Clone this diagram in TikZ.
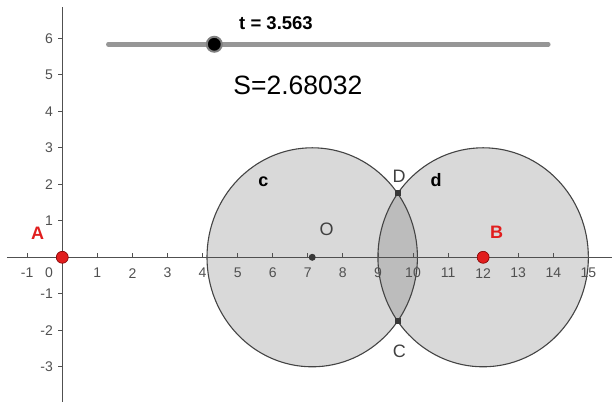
\documentclass[tikz,border=0pt]{standalone}
\usepackage{fontspec}
\setmainfont{Liberation Sans}

\definecolor{axisgray}{RGB}{80,80,80}
\definecolor{circfill}{RGB}{217,217,217}
\definecolor{lensfill}{RGB}{188,188,188}
\definecolor{ptred}{RGB}{225,30,30}
\definecolor{slidergray}{RGB}{150,150,150}

\begin{document}
\begin{tikzpicture}[x=35.07pt, y=36.5pt,
  axis/.style={draw=axisgray, line width=1.4pt},
  tick/.style={draw=axisgray, line width=0.8pt},
  ticklbl/.style={inner sep=0pt, text=axisgray, font=\fontsize{14}{14}\selectfont},
  circ/.style={draw=axisgray!85!black, line width=1.1pt},
  redpt/.style={circle, fill=ptred, draw=red!50!black, line width=0.6pt, inner sep=0pt, minimum size=12pt},
  greypt/.style={circle, fill=axisgray!70!black, inner sep=0pt, minimum size=7pt},
  sqpt/.style={rectangle, fill=axisgray!70!black, inner sep=0pt, minimum size=6pt},
  ptlabel/.style={inner sep=0pt, text=axisgray!80!black, font=\fontsize{18}{18}\selectfont},
  redlabel/.style={inner sep=0pt, text=ptred, font=\fontsize{18}{18}\selectfont\bfseries},
  circlabel/.style={inner sep=0pt, font=\fontsize{18}{18}\selectfont\bfseries}
]
  \useasboundingbox (-1.776,-4.074) rectangle (15.674,7.049);

  \coordinate (O) at (7.126,0);
  \coordinate (B) at (12,0);

  % the two circles and their common part
  \fill[circfill] (O) circle [radius=3];
  \fill[circfill] (B) circle [radius=3];
  \begin{scope}
    \clip (O) circle [radius=3];
    \fill[lensfill] (B) circle [radius=3];
  \end{scope}
  \draw[circ] (O) circle [radius=3];
  \draw[circ] (B) circle [radius=3];

  % axes
  \draw[axis] (-1.58,0) -- (15.674,0);
  \draw[axis] (0,-3.96) -- (0,6.85);
  \foreach \k in {-1,1,2,...,15} {
    \draw[tick] (\k,0) -- ++(0,4pt);
    \node[ticklbl] (xl\k) at (\k,-0.434) {\k};
  }
  \node[ticklbl] (xl0) at (-0.379,-0.434) {0};
  \foreach \k in {-3,-2,-1,1,2,...,6} {
    \draw[tick] (0,\k) -- ++(-4pt,0);
    \node[ticklbl, anchor=east] (yl\k) at (-0.265,\k) {\k};
  }

  % slider
  \coordinate (sl) at (1.312,5.836);
  \coordinate (sr) at (13.858,5.836);
  \draw[slidergray, line width=4.5pt, line cap=round] (sl) -- (sr);
  \node[circle, fill=black, draw=gray, line width=2pt, inner sep=0pt, minimum size=15pt] (knob) at (4.334,5.836) {};
  \node[inner sep=0pt, font=\fontsize{18.5}{19}\selectfont\bfseries] (tval) at (6.094,6.419) {t = 3.563};
  \node[inner sep=0pt, font=\fontsize{26.5}{27}\selectfont] (sval) at (6.72,4.72) {S=2.68032};

  % points
  \node[redpt] (A) at (0,0) {};
  \node[redpt] (Bpt) at (B) {};
  \node[greypt] (Opt) at (O) {};
  \node[sqpt] (D) at (9.563,1.750) {};
  \node[sqpt] (C) at (9.563,-1.750) {};

  % labels
  \node[redlabel] (Alab) at (-0.705,0.648) {A};
  \node[redlabel] (Blab) at (12.387,0.674) {B};
  \node[ptlabel] (Olab) at (7.539,0.767) {O};
  \node[ptlabel] (Dlab) at (9.601,2.227) {D};
  \node[ptlabel] (Clab) at (9.609,-2.567) {C};
  \node[circlabel] (clab) at (5.731,2.071) {c};
  \node[circlabel] (dlab) at (10.656,2.118) {d};
\end{tikzpicture}
\end{document}
